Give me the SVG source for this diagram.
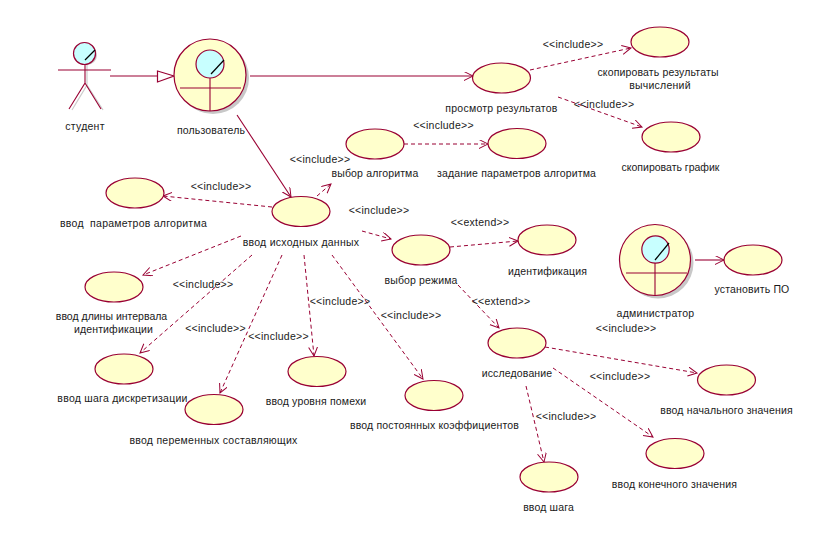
<svg xmlns="http://www.w3.org/2000/svg" width="813" height="553" viewBox="0 0 813 553">
<style>
text{font-family:"Liberation Sans",Arial,sans-serif;font-size:10.5px;letter-spacing:.25px;fill:#1a1a1a;text-anchor:middle}
.t{letter-spacing:.15px}
.z{letter-spacing:0}
.u{fill:#ffffcc;stroke:#990033;stroke-width:1.2}
.c{fill:none;stroke:#990033;stroke-width:1.1}
.d{fill:none;stroke:#990033;stroke-width:1;stroke-dasharray:4 3}
.h{fill:#c8ffff;stroke:#990033;stroke-width:1.2}
.n{fill:none;stroke:#000;stroke-width:1.2}
.s{fill:#c8c8c8}
.sl{fill:none;stroke:#ccc;stroke-width:1.2}
</style>
<defs>
<marker id="a" markerWidth="10" markerHeight="10" refX="9" refY="4.500" orient="auto" markerUnits="userSpaceOnUse"><path d="M0 0L9 4.500L0 9" fill="none" stroke="#990033" stroke-width="1"/></marker>
</defs>
<rect width="813" height="553" fill="#fff"/>
<g id="connectors">
<path class="c" d="M110 76H157"/>
<path d="M157.500 71L174 76L157.500 82Z" fill="#fff" stroke="#990033" stroke-width="1.2"/>
<path class="c" d="M250 76H473" marker-end="url(#a)"/>
<path class="c" d="M237 115L291 197" marker-end="url(#a)"/>
<path class="c" d="M695 260H724" marker-end="url(#a)"/>
<path class="d" d="M530 70L631 48" marker-end="url(#a)"/>
<path class="d" d="M558 97L642 127" marker-end="url(#a)"/>
<path class="d" d="M404 144H488" marker-end="url(#a)"/>
<path class="d" d="M317 196L331 184" marker-end="url(#a)"/>
<path class="d" d="M272 207L163 196" marker-end="url(#a)"/>
<path class="d" d="M362 231L391 239" marker-end="url(#a)"/>
<path class="d" d="M450 247L518 241" marker-end="url(#a)"/>
<path class="d" d="M458 285L499 328" marker-end="url(#a)"/>
<path class="d" d="M241 236L143 275" marker-end="url(#a)"/>
<path class="d" d="M252 255L140 353" marker-end="url(#a)"/>
<path class="d" d="M282 255L220 393" marker-end="url(#a)"/>
<path class="d" d="M304 255L314 356" marker-end="url(#a)"/>
<path class="d" d="M332 255L423 379" marker-end="url(#a)"/>
<path class="d" d="M545 347L697 373" marker-end="url(#a)"/>
<path class="d" d="M553 368L653 437" marker-end="url(#a)"/>
<path class="d" d="M526 386L544 462" marker-end="url(#a)"/>
</g>
<g id="student">
<circle class="s" cx="87" cy="55" r="10"/>
<path class="sl" d="M87 65V85L72 110M87 85L103 110"/>
<circle class="h" cx="84.500" cy="53.500" r="11"/>
<path class="n" d="M85 60L95 50"/>
<path class="c" d="M58 70H111M85 65V83L69 109M85 83L101 109"/>
<text x="85" y="130">студент</text>
</g>
<g id="user">
<circle class="s" cx="213" cy="78" r="36"/>
<circle class="u" cx="210" cy="75" r="36"/>
<circle class="h" cx="210" cy="64" r="14"/>
<path class="n" d="M211 74L224 60"/>
<path class="c" d="M210 78V111M180 88H241"/>
<text x="211" y="134" class="t">пользователь</text>
</g>
<g id="admin">
<circle class="s" cx="658" cy="263" r="35.500"/>
<circle class="u" cx="655" cy="260" r="35.500"/>
<circle class="h" cx="655.500" cy="249.500" r="13.700"/>
<path class="n" d="M655 260L669 243"/>
<path class="c" d="M655 263V295M626 273H687"/>
<text x="655.500" y="317">администратор</text>
</g>
<g id="u1"><ellipse class="u" cx="501.500" cy="78" rx="29" ry="15"/><text x="501.500" y="112">просмотр результатов</text></g>
<g id="u2"><ellipse class="u" cx="660" cy="42" rx="29" ry="15"/><text x="658" y="76" class="t">скопировать результаты</text><text x="660" y="89">вычислений</text></g>
<g id="u3"><ellipse class="u" cx="671" cy="137" rx="29" ry="15"/><text x="670.500" y="171" class="z">скопировать график</text></g>
<g id="u4"><ellipse class="u" cx="375" cy="144" rx="29" ry="15"/><text x="375" y="177" class="t">выбор алгоритма</text></g>
<g id="u5"><ellipse class="u" cx="517" cy="143.500" rx="29" ry="15"/><text x="516.500" y="177" class="t">задание параметров алгоритма</text></g>
<g id="u6"><ellipse class="u" cx="135" cy="193" rx="29" ry="15"/><text x="133.500" y="227" xml:space="preserve">ввод  параметров алгоритма</text></g>
<g id="u7"><ellipse class="u" cx="301" cy="211.500" rx="29" ry="15"/><text x="301" y="246">ввод исходных данных</text></g>
<g id="u8"><ellipse class="u" cx="421" cy="250" rx="29" ry="15"/><text x="421" y="284" class="t">выбор режима</text></g>
<g id="u9"><ellipse class="u" cx="547" cy="240" rx="29" ry="15"/><text x="547.500" y="275" class="t">идентификация</text></g>
<g id="u10"><ellipse class="u" cx="753" cy="260" rx="29" ry="15"/><text x="752" y="293" class="t">установить ПО</text></g>
<g id="u11"><ellipse class="u" cx="114" cy="287" rx="29" ry="15"/><text x="111.500" y="320" class="z">ввод длины интервала</text><text x="113.500" y="333" class="t">идентификации</text></g>
<g id="u12"><ellipse class="u" cx="124" cy="369" rx="29" ry="15"/><text x="122.500" y="402">ввод шага дискретизации</text></g>
<g id="u13"><ellipse class="u" cx="214" cy="409.500" rx="29" ry="15"/><text x="213.500" y="444">ввод переменных составляющих</text></g>
<g id="u14"><ellipse class="u" cx="317" cy="371.500" rx="29" ry="15"/><text x="316" y="405" class="t">ввод уровня помехи</text></g>
<g id="u15"><ellipse class="u" cx="434" cy="395.500" rx="29" ry="15"/><text x="434.500" y="429" class="t">ввод постоянных коэффициентов</text></g>
<g id="u16"><ellipse class="u" cx="517" cy="343" rx="29" ry="15"/><text x="517" y="377" class="t">исследование</text></g>
<g id="u17"><ellipse class="u" cx="726.500" cy="380" rx="29" ry="15"/><text x="726.500" y="414" class="t">ввод начального значения</text></g>
<g id="u18"><ellipse class="u" cx="675" cy="453.500" rx="29" ry="15"/><text x="674.500" y="488" class="t">ввод конечного значения</text></g>
<g id="u19"><ellipse class="u" cx="549" cy="477" rx="29" ry="15"/><text x="548.500" y="511" class="t">ввод шага</text></g>
<g id="labels">
<text x="573" y="48">&lt;&lt;include&gt;&gt;</text>
<text x="604" y="108">&lt;&lt;include&gt;&gt;</text>
<text x="443.500" y="129">&lt;&lt;include&gt;&gt;</text>
<text x="320" y="163">&lt;&lt;include&gt;&gt;</text>
<text x="221" y="190">&lt;&lt;include&gt;&gt;</text>
<text x="379" y="214">&lt;&lt;include&gt;&gt;</text>
<text x="480" y="226">&lt;&lt;extend&gt;&gt;</text>
<text x="501" y="305">&lt;&lt;extend&gt;&gt;</text>
<text x="203" y="288">&lt;&lt;include&gt;&gt;</text>
<text x="215.500" y="332">&lt;&lt;include&gt;&gt;</text>
<text x="278.500" y="340">&lt;&lt;include&gt;&gt;</text>
<text x="340" y="305">&lt;&lt;include&gt;&gt;</text>
<text x="411" y="319">&lt;&lt;include&gt;&gt;</text>
<text x="626" y="332">&lt;&lt;include&gt;&gt;</text>
<text x="620" y="380">&lt;&lt;include&gt;&gt;</text>
<text x="566" y="420">&lt;&lt;include&gt;&gt;</text>
</g>
</svg>
